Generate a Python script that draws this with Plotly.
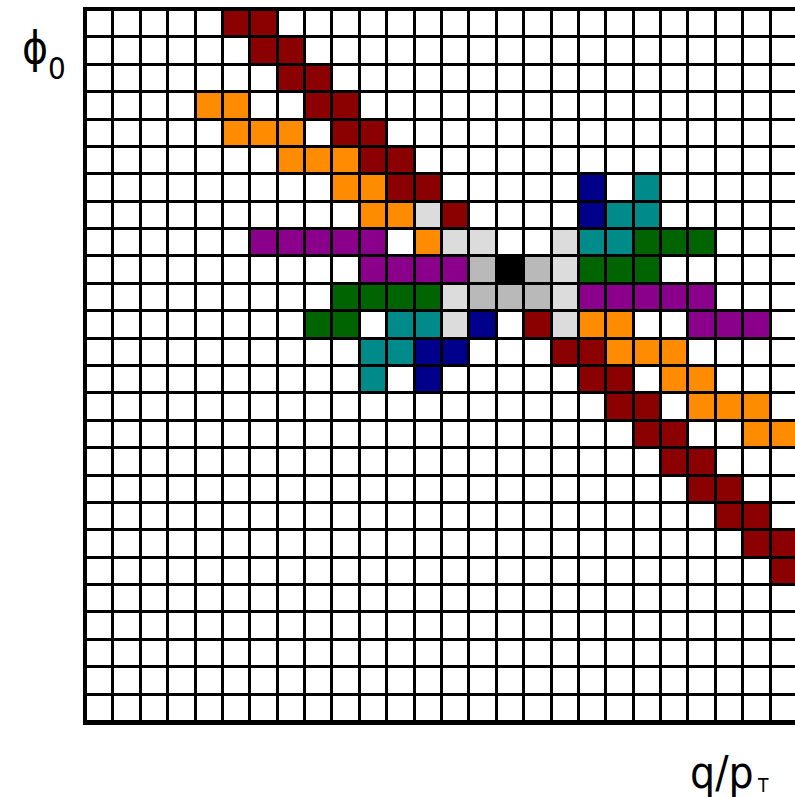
import plotly.graph_objects as go

n_rows = 26
n_cols = 26

# (row, col) cells per colour category; row 0 at top
darkred_cells = [(0, 5), (0, 6), (1, 6), (1, 7), (2, 7), (2, 8), (3, 8), (3, 9),
                 (4, 9), (4, 10), (5, 10), (5, 11), (6, 11), (6, 12), (7, 13),
                 (11, 16), (12, 17), (12, 18), (13, 18), (13, 19), (14, 19), (14, 20),
                 (15, 20), (15, 21), (16, 21), (16, 22), (17, 22), (17, 23),
                 (18, 23), (18, 24), (19, 24), (19, 25), (20, 25)]
orange_cells = [(3, 4), (3, 5), (4, 5), (4, 6), (4, 7), (5, 7), (5, 8), (5, 9),
                (6, 9), (6, 10), (7, 10), (7, 11), (8, 12),
                (11, 18), (11, 19), (12, 19), (12, 20), (12, 21), (13, 21), (13, 22),
                (14, 22), (14, 23), (14, 24), (15, 24), (15, 25)]
purple_cells = [(8, 6), (8, 7), (8, 8), (8, 9), (8, 10), (9, 10), (9, 11), (9, 12), (9, 13),
                (10, 18), (10, 19), (10, 20), (10, 21), (10, 22), (11, 22), (11, 23), (11, 24)]
green_cells = [(8, 20), (8, 21), (8, 22), (9, 18), (9, 19), (9, 20),
               (10, 9), (10, 10), (10, 11), (10, 12), (11, 8), (11, 9)]
teal_cells = [(6, 20), (7, 19), (7, 20), (8, 18), (8, 19),
              (11, 11), (11, 12), (12, 10), (12, 11), (13, 10)]
blue_cells = [(6, 18), (7, 18), (11, 14), (12, 12), (12, 13), (13, 12)]
lightgrey_cells = [(7, 12), (8, 13), (8, 14), (8, 17), (9, 17), (10, 13), (10, 17),
                   (11, 13), (11, 17)]
grey_cells = [(9, 14), (9, 16), (10, 14), (10, 15), (10, 16)]
black_cells = [(9, 15)]

categories = [darkred_cells, orange_cells, purple_cells, green_cells, teal_cells,
              blue_cells, lightgrey_cells, grey_cells, black_cells]
colors = ["#ffffff", "#8b0000", "#ff8c00", "#8b008b", "#006400", "#008b8b",
          "#00008b", "#dcdcdc", "#b9b9b9", "#000000"]

z = [[0] * n_cols for _ in range(n_rows)]
for k, cells in enumerate(categories, start=1):
    for r, c in cells:
        z[r][c] = k

nc = len(colors)
colorscale = []
for i, col in enumerate(colors):
    colorscale.append([i / nc, col])
    colorscale.append([(i + 1) / nc, col])

fig = go.Figure(go.Heatmap(
    z=z, x=list(range(n_cols)), y=list(range(n_rows)),
    zmin=-0.5, zmax=nc - 0.5, colorscale=colorscale, showscale=False,
    xgap=3, ygap=3, hoverinfo="skip"))

W, H = 795, 797
ml, mr, mt, mb = 86, 0, 10, 75
pw, ph = W - ml - mr, H - mt - mb
pitch = ph / n_rows
x_hi = -0.5 + pw / pitch


def px(xp):
    return (xp - ml) / pw


def py(yp):
    return 1 - (yp - mt) / ph


FONT = "DejaVu Sans Condensed, Liberation Sans Narrow, Arial Narrow, sans-serif"

# text, x, y, xanchor, yanchor, size
labels = [
    ("ϕ", 34.5, 47, "center", "middle", 44),
    ("0", 57, 68, "center", "middle", 31),
    ("q/p", 755, 772, "right", "middle", 44),
    ("T", 756, 797, "left", "bottom", 19),
]

annotations = []
for txt, x, y, xa, ya, size in labels:
    annotations.append(dict(text=txt, xref="paper", yref="paper", x=px(x), y=py(y),
                            xanchor=xa, yanchor=ya, showarrow=False, borderpad=0,
                            font=dict(size=size, family=FONT, color="black")))

fig.update_layout(
    width=W, height=H,
    margin=dict(l=ml, r=mr, t=mt, b=mb),
    paper_bgcolor="white", plot_bgcolor="black",
    xaxis=dict(range=[-0.5, x_hi], showgrid=False, zeroline=False, showticklabels=False,
               ticks="", showline=True, linecolor="black", linewidth=3, mirror=True),
    yaxis=dict(range=[n_rows - 0.5, -0.5], showgrid=False, zeroline=False,
               showticklabels=False, ticks="", showline=True, linecolor="black",
               linewidth=3, mirror=False),
    annotations=annotations,
)

fig.write_html("out.html")
